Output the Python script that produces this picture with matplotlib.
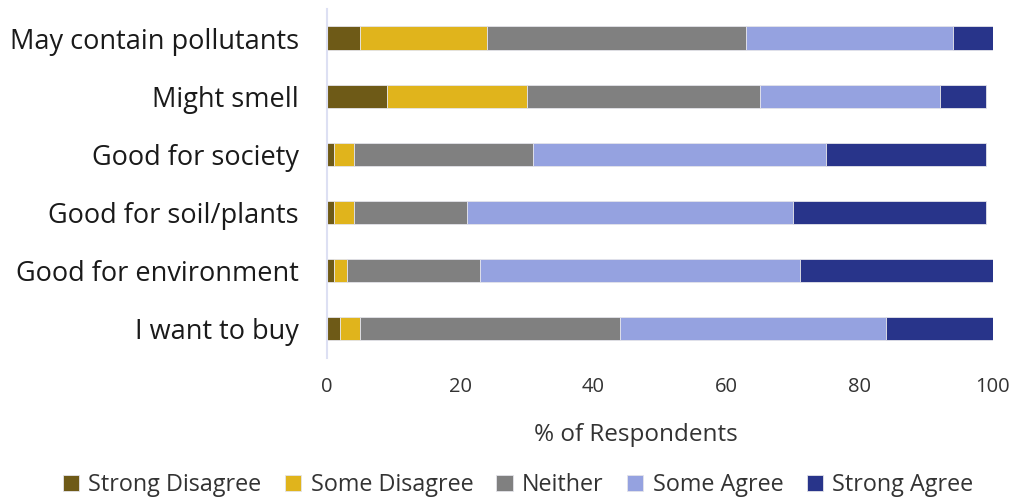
import numpy as np
import matplotlib.pyplot as plt

plt.rcParams['font.family'] = ['Open Sans', 'DejaVu Sans']

# Data
statements = ["May contain pollutants", "Might smell", "Good for society",
              "Good for soil/plants", "Good for environment", "I want to buy"]
strong_disagree = [5, 9, 1, 1, 1, 2]
some_disagree = [19, 21, 3, 3, 2, 3]
neither = [39, 35, 27, 17, 20, 39]
some_agree = [31, 27, 44, 49, 48, 40]
strong_agree = [6, 7, 24, 29, 29, 16]

series = [strong_disagree, some_disagree, neither, some_agree, strong_agree]
names = ["Strong Disagree", "Some Disagree", "Neither", "Some Agree", "Strong Agree"]
colors = ["#6e5a17", "#e0b41c", "#808080", "#95a2e0", "#28348a"]

fig, ax = plt.subplots(figsize=(10.12, 4.97), dpi=100)
fig.subplots_adjust(left=0.323, right=0.981, top=0.982, bottom=0.28)

y = np.arange(len(statements))
left = np.zeros(len(statements))
for vals, name, col in zip(series, names, colors):
    ax.barh(y, vals, left=left, height=0.4, color=col, label=name,
            edgecolor="#e4e4ea", linewidth=0.6)
    left += np.array(vals)

ax.set_yticks(y)
ax.set_yticklabels(statements, fontsize=19.5, color="#1a1a1a")
ax.set_ylim(5.5, -0.5)
ax.set_xlim(0, 100)
ax.set_xticks([0, 20, 40, 60, 80, 100])
ax.tick_params(axis="x", labelsize=14.5, colors="#333333", length=0, pad=14)
ax.tick_params(axis="y", length=0, pad=20)
for s in ["top", "right", "bottom"]:
    ax.spines[s].set_visible(False)
ax.spines["left"].set_color("#dde0f3")
ax.spines["left"].set_linewidth(1.5)
ax.set_xlabel("% of Respondents", fontsize=17.5, color="#333333")
ax.xaxis.set_label_coords(0.464, -0.188)

fig.legend(loc="lower center", bbox_to_anchor=(0.512, -0.043), ncol=5, frameon=False,
           fontsize=16.8, handlelength=0.7, handleheight=0.7, handletextpad=0.4,
           columnspacing=1.0, labelcolor="#333333")

fig.savefig("out.png", dpi=100)
